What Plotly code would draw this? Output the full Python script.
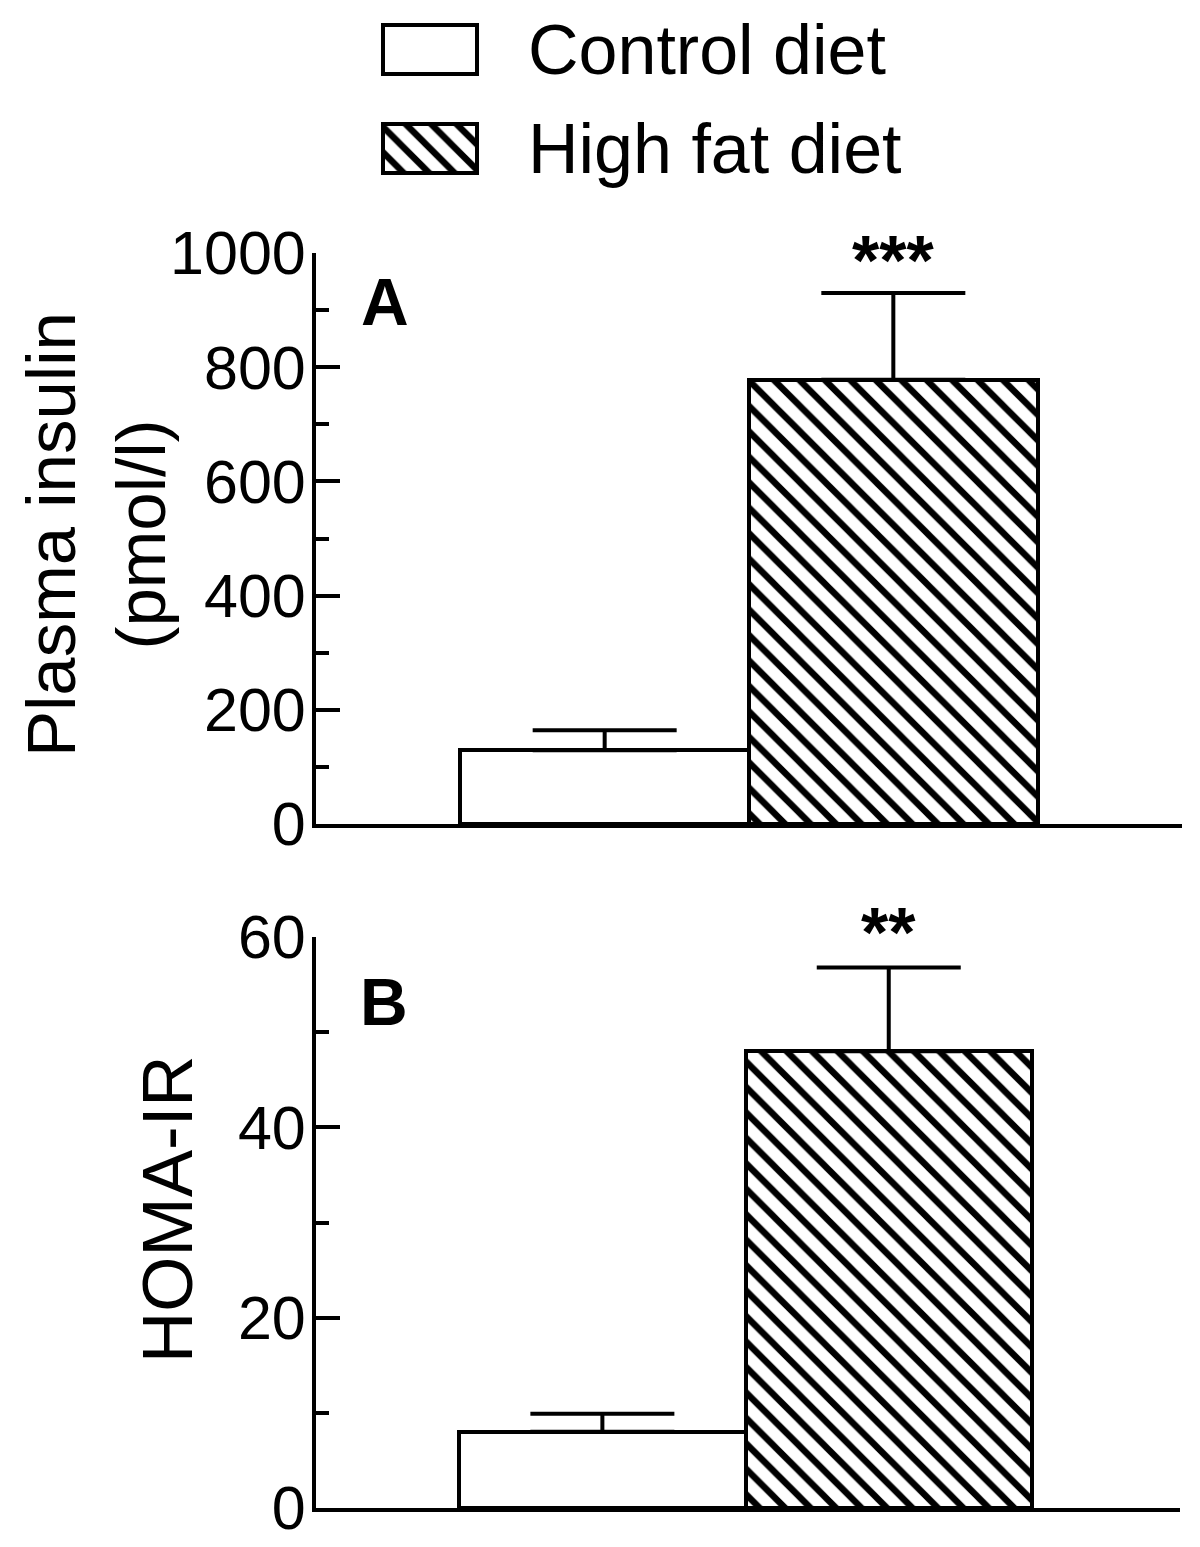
import plotly.graph_objects as go

W, H = 1200, 1547
OFF = 8

groups = ["Control diet", "High fat diet"]
insulin = [129, 778]
insulin_sem = [35, 152]
homa = [8.0, 48.0]
homa_sem = [1.9, 8.8]
stars_a = "***"
stars_b = "**"

FONT = "Liberation Sans, Arial, sans-serif"
patterns = ["", "\\"]
hatch = dict(shape=patterns, fgcolor="black", fgopacity=1, bgcolor="white", size=18, solidity=0.36)


def px_x(x):
    return (x - OFF) / W


def px_y(y):
    return 1 - (y - OFF) / H


fig = go.Figure()

# panel A
fig.add_trace(go.Bar(x=[0, 1], y=insulin, width=1,
                     marker=dict(color="white", line=dict(color="black", width=4), pattern=hatch),
                     error_y=dict(type="data", array=insulin_sem, arrayminus=[0, 0], symmetric=False,
                                  color="black", thickness=4, width=72),
                     xaxis="x", yaxis="y", showlegend=False))

# panel B
fig.add_trace(go.Bar(x=[0, 1], y=homa, width=1,
                     marker=dict(color="white", line=dict(color="black", width=4), pattern=hatch),
                     error_y=dict(type="data", array=homa_sem, arrayminus=[0, 0], symmetric=False,
                                  color="black", thickness=4, width=72),
                     xaxis="x2", yaxis="y2", showlegend=False))

# legend boxes drawn as a small hidden bar chart so the hatch matches
fig.add_trace(go.Bar(x=[1, 1], y=[1, 0], base=0, orientation="h", width=0.495,
                     marker=dict(color="white", line=dict(color="black", width=4), pattern=hatch),
                     xaxis="x3", yaxis="y3", showlegend=False, hoverinfo="skip"))

yax = dict(showline=True, linecolor="black", linewidth=4, ticks="inside", ticklen=24, tickwidth=4,
           tickcolor="black", showgrid=False, zeroline=False, ticklabelstandoff=-6, automargin=False,
           tickfont=dict(family=FONT, size=61, color="black"))
xax = dict(showline=True, linecolor="black", linewidth=4, showticklabels=False, ticks="",
           showgrid=False, zeroline=False, automargin=False)

fig.update_layout(
    template="none",
    width=W, height=H, margin=dict(l=0, r=0, t=0, b=0, autoexpand=False),
    paper_bgcolor="white", plot_bgcolor="rgba(0,0,0,0)",
    bargap=0, showlegend=False,
    xaxis=dict(xax, domain=[px_x(316), px_x(1182)], range=[-1, 2.0], anchor="y"),
    yaxis=dict(yax, domain=[px_y(824), px_y(253)], range=[0, 1000], dtick=200, anchor="x",
               minor=dict(dtick=100, ticks="inside", ticklen=13, tickwidth=4, tickcolor="black")),
    xaxis2=dict(xax, domain=[px_x(316), px_x(1180)], range=[-1, 2.017], anchor="y2"),
    yaxis2=dict(yax, domain=[px_y(1508), px_y(937)], range=[0, 60], dtick=20, anchor="x2",
                minor=dict(dtick=10, ticks="inside", ticklen=13, tickwidth=4, tickcolor="black")),
    xaxis3=dict(domain=[px_x(373), px_x(487)], range=[-10 / 94, 1 + 10 / 94], visible=False,
                anchor="y3", automargin=False),
    yaxis3=dict(domain=[px_y(183), px_y(15)], range=[-0.2475 - 10 / 99, 1.2475 + 10 / 99],
                visible=False, anchor="x3", automargin=False),
)

ann = []
# legend labels
for i, g in enumerate(groups):
    ann.append(dict(text=g, x=px_x(526), y=px_y(49.5 + 99 * i), xref="paper", yref="paper",
                    xanchor="left", yanchor="middle", showarrow=False,
                    font=dict(family=FONT, size=70, color="black")))
# axis titles
ann.append(dict(text="Plasma insulin<br>(pmol/l)", x=px_x(96), y=px_y(535), xref="paper", yref="paper",
                textangle=-90, xanchor="center", yanchor="middle", showarrow=False,
                font=dict(family=FONT, size=69, color="black")))
ann.append(dict(text="HOMA-IR", x=px_x(167), y=px_y(1209), xref="paper", yref="paper",
                textangle=-90, xanchor="center", yanchor="middle", showarrow=False,
                font=dict(family=FONT, size=71, color="black")))
# panel letters
ann.append(dict(text="<b>A</b>", x=px_x(385), y=px_y(302), xref="paper", yref="paper",
                xanchor="center", yanchor="middle", showarrow=False,
                font=dict(family=FONT, size=66, color="black")))
ann.append(dict(text="<b>B</b>", x=px_x(384), y=px_y(1002), xref="paper", yref="paper",
                xanchor="center", yanchor="middle", showarrow=False,
                font=dict(family=FONT, size=66, color="black")))
# significance
ann.append(dict(text="<b>" + stars_a + "</b>", x=1, y=insulin[1] + insulin_sem[1], xref="x", yref="y",
                xanchor="center", yanchor="bottom", showarrow=False, yshift=-9,
                font=dict(family=FONT, size=70, color="black")))
ann.append(dict(text="<b>" + stars_b + "</b>", x=1, y=homa[1] + homa_sem[1], xref="x2", yref="y2",
                xanchor="center", yanchor="bottom", showarrow=False, yshift=-7,
                font=dict(family=FONT, size=70, color="black")))
fig.update_layout(annotations=ann)

fig.write_html("out.html")
